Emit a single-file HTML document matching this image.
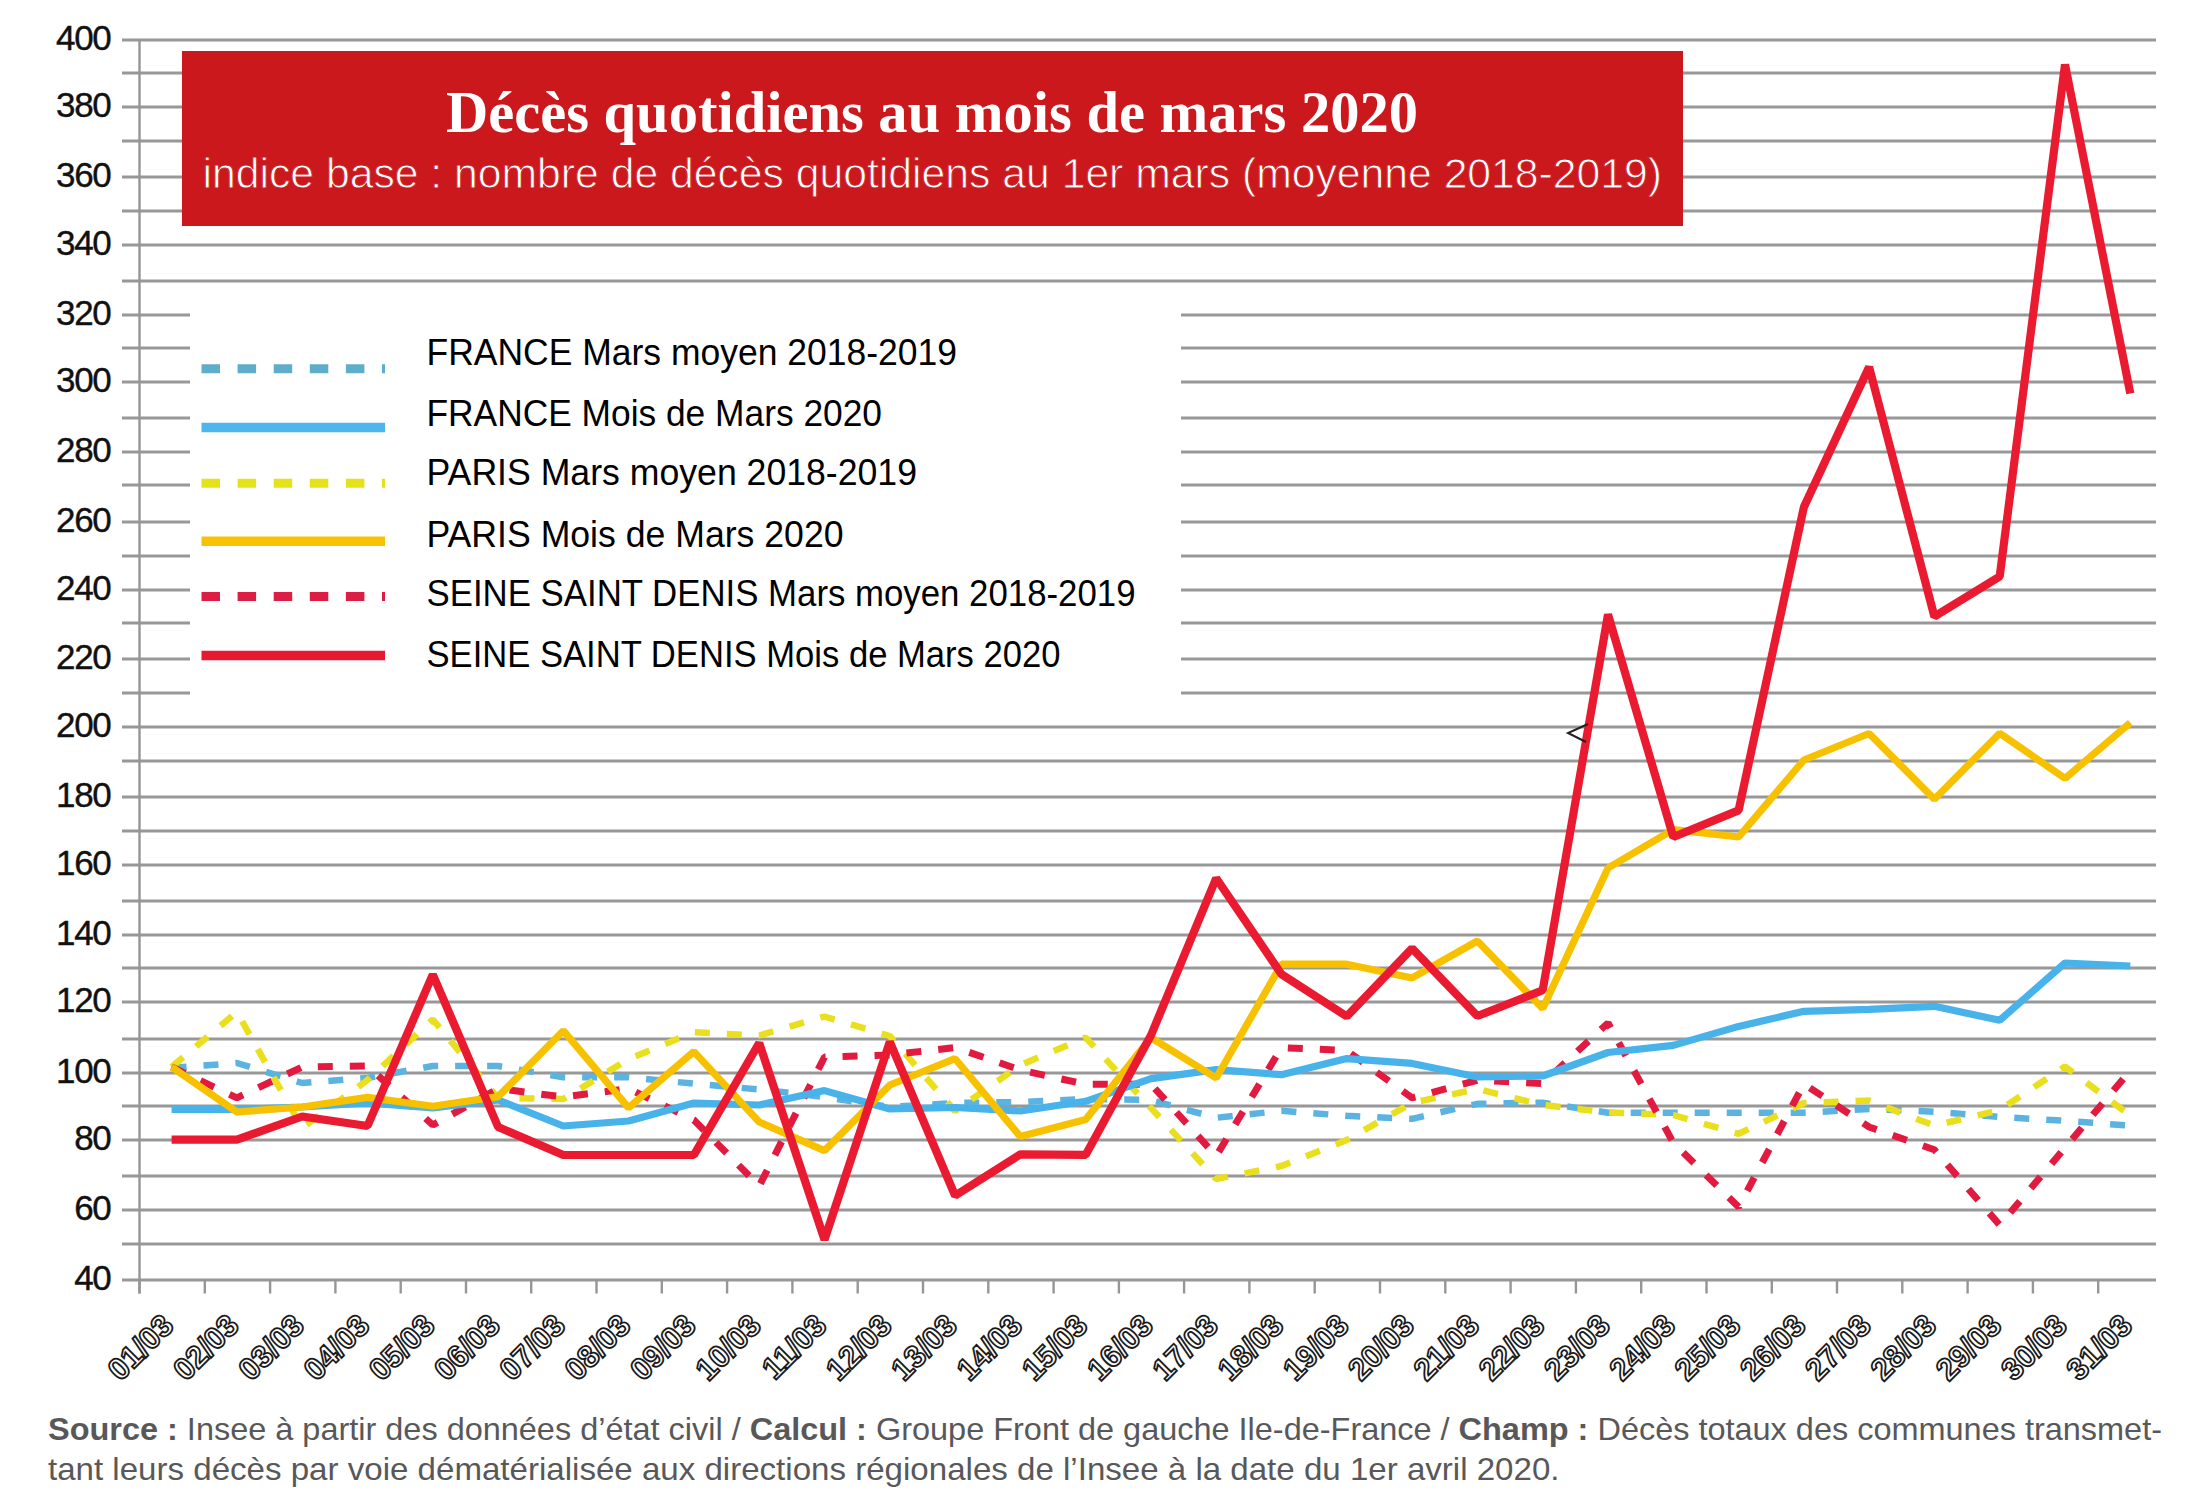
<!DOCTYPE html>
<html><head><meta charset="utf-8"><title>Décès quotidiens au mois de mars 2020</title>
<style>
html,body{margin:0;padding:0;background:#fff;}
body{width:2200px;height:1494px;overflow:hidden;position:relative;}
svg{position:absolute;left:0;top:0;display:block;}
</style></head><body>
<svg width="2200" height="1494" viewBox="0 0 2200 1494">
<rect x="0" y="0" width="2200" height="1494" fill="#fff"/>

<g stroke="#989898" stroke-width="2.8"><line x1="122" y1="40" x2="2156" y2="40"/><line x1="122" y1="73" x2="2156" y2="73"/><line x1="122" y1="107" x2="2156" y2="107"/><line x1="122" y1="141" x2="2156" y2="141"/><line x1="122" y1="177" x2="2156" y2="177"/><line x1="122" y1="211" x2="2156" y2="211"/><line x1="122" y1="245" x2="2156" y2="245"/><line x1="122" y1="281" x2="2156" y2="281"/><line x1="122" y1="315" x2="2156" y2="315"/><line x1="122" y1="348" x2="2156" y2="348"/><line x1="122" y1="382" x2="2156" y2="382"/><line x1="122" y1="418" x2="2156" y2="418"/><line x1="122" y1="452" x2="2156" y2="452"/><line x1="122" y1="485" x2="2156" y2="485"/><line x1="122" y1="522" x2="2156" y2="522"/><line x1="122" y1="556" x2="2156" y2="556"/><line x1="122" y1="590" x2="2156" y2="590"/><line x1="122" y1="623" x2="2156" y2="623"/><line x1="122" y1="659" x2="2156" y2="659"/><line x1="122" y1="693" x2="2156" y2="693"/><line x1="122" y1="727" x2="2156" y2="727"/><line x1="122" y1="761" x2="2156" y2="761"/><line x1="122" y1="797" x2="2156" y2="797"/><line x1="122" y1="831" x2="2156" y2="831"/><line x1="122" y1="865" x2="2156" y2="865"/><line x1="122" y1="901" x2="2156" y2="901"/><line x1="122" y1="935" x2="2156" y2="935"/><line x1="122" y1="968" x2="2156" y2="968"/><line x1="122" y1="1002" x2="2156" y2="1002"/><line x1="122" y1="1039" x2="2156" y2="1039"/><line x1="122" y1="1073" x2="2156" y2="1073"/><line x1="122" y1="1106" x2="2156" y2="1106"/><line x1="122" y1="1140" x2="2156" y2="1140"/><line x1="122" y1="1176" x2="2156" y2="1176"/><line x1="122" y1="1210" x2="2156" y2="1210"/><line x1="122" y1="1244" x2="2156" y2="1244"/><line x1="122" y1="1280" x2="2156" y2="1280"/></g>
<g stroke="#969696" stroke-width="2.4"><line x1="139.5" y1="40" x2="139.5" y2="1293.5"/><line x1="139.5" y1="1280" x2="139.5" y2="1293.5"/><line x1="204.8" y1="1280" x2="204.8" y2="1293.5"/><line x1="270.1" y1="1280" x2="270.1" y2="1293.5"/><line x1="335.4" y1="1280" x2="335.4" y2="1293.5"/><line x1="400.7" y1="1280" x2="400.7" y2="1293.5"/><line x1="466.0" y1="1280" x2="466.0" y2="1293.5"/><line x1="531.2" y1="1280" x2="531.2" y2="1293.5"/><line x1="596.5" y1="1280" x2="596.5" y2="1293.5"/><line x1="661.8" y1="1280" x2="661.8" y2="1293.5"/><line x1="727.1" y1="1280" x2="727.1" y2="1293.5"/><line x1="792.4" y1="1280" x2="792.4" y2="1293.5"/><line x1="857.7" y1="1280" x2="857.7" y2="1293.5"/><line x1="923.0" y1="1280" x2="923.0" y2="1293.5"/><line x1="988.3" y1="1280" x2="988.3" y2="1293.5"/><line x1="1053.6" y1="1280" x2="1053.6" y2="1293.5"/><line x1="1118.9" y1="1280" x2="1118.9" y2="1293.5"/><line x1="1184.1" y1="1280" x2="1184.1" y2="1293.5"/><line x1="1249.4" y1="1280" x2="1249.4" y2="1293.5"/><line x1="1314.7" y1="1280" x2="1314.7" y2="1293.5"/><line x1="1380.0" y1="1280" x2="1380.0" y2="1293.5"/><line x1="1445.3" y1="1280" x2="1445.3" y2="1293.5"/><line x1="1510.6" y1="1280" x2="1510.6" y2="1293.5"/><line x1="1575.9" y1="1280" x2="1575.9" y2="1293.5"/><line x1="1641.2" y1="1280" x2="1641.2" y2="1293.5"/><line x1="1706.5" y1="1280" x2="1706.5" y2="1293.5"/><line x1="1771.8" y1="1280" x2="1771.8" y2="1293.5"/><line x1="1837.0" y1="1280" x2="1837.0" y2="1293.5"/><line x1="1902.3" y1="1280" x2="1902.3" y2="1293.5"/><line x1="1967.6" y1="1280" x2="1967.6" y2="1293.5"/><line x1="2032.9" y1="1280" x2="2032.9" y2="1293.5"/><line x1="2098.2" y1="1280" x2="2098.2" y2="1293.5"/></g>
<polyline points="171.6,1068.0 236.9,1063.0 302.2,1083.0 367.5,1078.0 432.8,1066.0 498.1,1066.0 563.3,1077.3 628.6,1077.3 693.9,1083.7 759.2,1089.4 824.5,1097.0 889.8,1107.0 955.1,1103.0 1020.4,1102.0 1085.7,1099.0 1151.0,1100.0 1216.2,1117.8 1281.5,1110.8 1346.8,1115.8 1412.1,1118.8 1477.4,1103.8 1542.7,1102.7 1608.0,1112.7 1673.3,1112.7 1738.6,1112.7 1803.9,1112.7 1869.1,1109.0 1934.4,1111.7 1999.7,1117.0 2065.0,1120.7 2130.3,1125.7" fill="none" stroke="#5bb3e2" stroke-width="6.5" stroke-linejoin="bevel" stroke-dasharray="15 17"/>
<polyline points="171.6,1067.0 236.9,1012.0 302.2,1128.0 367.5,1080.0 432.8,1019.5 498.1,1098.0 563.3,1099.0 628.6,1059.0 693.9,1032.3 759.2,1035.5 824.5,1016.5 889.8,1036.0 955.1,1111.0 1020.4,1065.0 1085.7,1037.6 1151.0,1108.0 1216.2,1179.0 1281.5,1166.0 1346.8,1140.0 1412.1,1102.8 1477.4,1089.0 1542.7,1105.0 1608.0,1112.4 1673.3,1115.0 1738.6,1133.8 1803.9,1103.0 1869.1,1100.6 1934.4,1125.7 1999.7,1110.0 2065.0,1066.5 2130.3,1115.7" fill="none" stroke="#e9df1c" stroke-width="6.5" stroke-linejoin="bevel" stroke-dasharray="15 17"/>
<polyline points="171.6,1067.0 236.9,1097.8 302.2,1067.0 367.5,1066.0 432.8,1125.0 498.1,1088.6 563.3,1097.0 628.6,1088.6 693.9,1120.0 759.2,1186.0 824.5,1057.0 889.8,1055.0 955.1,1047.5 1020.4,1070.0 1085.7,1084.3 1151.0,1084.3 1216.2,1156.0 1281.5,1047.6 1346.8,1050.6 1412.1,1097.8 1477.4,1080.3 1542.7,1083.5 1608.0,1023.0 1673.3,1142.8 1738.6,1207.0 1803.9,1084.0 1869.1,1127.0 1934.4,1149.8 1999.7,1225.0 2065.0,1147.8 2130.3,1070.5" fill="none" stroke="#e21a40" stroke-width="7" stroke-linejoin="bevel" stroke-dasharray="15 17"/>
<polyline points="171.6,1109.5 236.9,1109.5 302.2,1107.0 367.5,1103.0 432.8,1108.0 498.1,1100.0 563.3,1126.0 628.6,1121.0 693.9,1103.0 759.2,1105.0 824.5,1090.6 889.8,1109.0 955.1,1107.5 1020.4,1111.0 1085.7,1101.3 1151.0,1078.6 1216.2,1069.6 1281.5,1074.7 1346.8,1058.6 1412.1,1063.4 1477.4,1077.0 1542.7,1076.0 1608.0,1052.5 1673.3,1045.4 1738.6,1026.4 1803.9,1011.3 1869.1,1009.3 1934.4,1006.3 1999.7,1020.3 2065.0,963.0 2130.3,966.0" fill="none" stroke="#48b2ea" stroke-width="7.2" stroke-linejoin="bevel"/>
<polyline points="171.6,1067.0 236.9,1112.0 302.2,1107.0 367.5,1097.4 432.8,1106.2 498.1,1096.6 563.3,1030.7 628.6,1107.8 693.9,1051.6 759.2,1122.0 824.5,1150.6 889.8,1085.0 955.1,1058.7 1020.4,1136.6 1085.7,1119.6 1151.0,1037.6 1216.2,1078.0 1281.5,964.2 1346.8,964.2 1412.1,977.9 1477.4,941.0 1542.7,1008.5 1608.0,868.0 1673.3,829.6 1738.6,837.0 1803.9,760.0 1869.1,733.5 1934.4,799.3 1999.7,733.2 2065.0,778.4 2130.3,722.7" fill="none" stroke="#f7c100" stroke-width="7.2" stroke-linejoin="bevel"/>
<polyline points="171.6,1139.7 236.9,1139.7 302.2,1116.5 367.5,1126.0 432.8,974.5 498.1,1127.0 563.3,1155.0 628.6,1155.0 693.9,1155.0 759.2,1043.0 824.5,1239.6 889.8,1041.9 955.1,1195.6 1020.4,1154.3 1085.7,1154.9 1151.0,1035.3 1216.2,878.2 1281.5,974.3 1346.8,1016.4 1412.1,948.3 1477.4,1016.0 1542.7,990.3 1608.0,614.5 1673.3,837.0 1738.6,810.4 1803.9,507.0 1869.1,367.0 1934.4,616.6 1999.7,576.6 2065.0,64.5 2130.3,393.5" fill="none" stroke="#ea1a30" stroke-width="8.2" stroke-linejoin="bevel"/>
<polyline points="1588,724 1568,733 1586,742" fill="none" stroke="#222" stroke-width="2"/>
<rect x="182" y="51" width="1501" height="175" fill="#cb181d"/>
<text x="446" y="131.5" font-family="Liberation Serif, serif" font-weight="700" font-size="58.5" fill="#fff" textLength="972" lengthAdjust="spacingAndGlyphs">Décès quotidiens au mois de mars 2020</text>
<text x="202.5" y="188" font-family="Liberation Sans, sans-serif" font-size="42.5" fill="#fff" stroke="#cb181d" stroke-width="0.9" textLength="1459.5" lengthAdjust="spacingAndGlyphs">indice base : nombre de décès quotidiens au 1er mars (moyenne 2018-2019)</text>
<rect x="190" y="298" width="991" height="412" fill="#fff"/>
<line x1="201.5" y1="368.8" x2="385" y2="368.8" stroke="#5eaecb" stroke-width="9" stroke-dasharray="18.5 17.6"/>
<text x="426.5" y="364.8" font-family="Liberation Sans, sans-serif" font-size="37" fill="#000" textLength="530.5" lengthAdjust="spacingAndGlyphs">FRANCE Mars moyen 2018-2019</text>
<line x1="201.5" y1="427.5" x2="385" y2="427.5" stroke="#4db6ec" stroke-width="9.5"/>
<text x="426.5" y="425.5" font-family="Liberation Sans, sans-serif" font-size="37" fill="#000" textLength="455.5" lengthAdjust="spacingAndGlyphs">FRANCE Mois de Mars 2020</text>
<line x1="201.5" y1="483.2" x2="385" y2="483.2" stroke="#e6e21a" stroke-width="9" stroke-dasharray="18.5 17.6"/>
<text x="426.5" y="484.9" font-family="Liberation Sans, sans-serif" font-size="37" fill="#000" textLength="490.5" lengthAdjust="spacingAndGlyphs">PARIS Mars moyen 2018-2019</text>
<line x1="201.5" y1="541.3" x2="385" y2="541.3" stroke="#f7c300" stroke-width="9.5"/>
<text x="426.5" y="546.6" font-family="Liberation Sans, sans-serif" font-size="37" fill="#000" textLength="417.0" lengthAdjust="spacingAndGlyphs">PARIS Mois de Mars 2020</text>
<line x1="201.5" y1="596.6" x2="385" y2="596.6" stroke="#dc1e44" stroke-width="9" stroke-dasharray="18.5 17.6"/>
<text x="426.5" y="606" font-family="Liberation Sans, sans-serif" font-size="37" fill="#000" textLength="709.0" lengthAdjust="spacingAndGlyphs">SEINE SAINT DENIS Mars moyen 2018-2019</text>
<line x1="201.5" y1="655.5" x2="385" y2="655.5" stroke="#e8182e" stroke-width="9.5"/>
<text x="426.5" y="666.7" font-family="Liberation Sans, sans-serif" font-size="37" fill="#000" textLength="634.0" lengthAdjust="spacingAndGlyphs">SEINE SAINT DENIS Mois de Mars 2020</text>
<g font-family="Liberation Sans, sans-serif" font-size="35" fill="#111" stroke="#111" stroke-width="0.4" text-anchor="end" letter-spacing="-1.3"><text x="110.5" y="1290">40</text><text x="110.5" y="1220">60</text><text x="110.5" y="1150">80</text><text x="110.5" y="1083">100</text><text x="110.5" y="1012">120</text><text x="110.5" y="945">140</text><text x="110.5" y="875">160</text><text x="110.5" y="807">180</text><text x="110.5" y="737">200</text><text x="110.5" y="669">220</text><text x="110.5" y="600">240</text><text x="110.5" y="532">260</text><text x="110.5" y="462">280</text><text x="110.5" y="392">300</text><text x="110.5" y="325">320</text><text x="110.5" y="255">340</text><text x="110.5" y="187">360</text><text x="110.5" y="117">380</text><text x="110.5" y="50">400</text></g>
<g font-family="Liberation Sans, sans-serif" font-size="31" font-weight="700" fill="#fff" stroke="#1a1a1a" stroke-width="1.8" text-anchor="end" dominant-baseline="hanging"><text transform="translate(159.6,1311.5) rotate(-45)" x="0" y="0">01/03</text><text transform="translate(224.9,1311.5) rotate(-45)" x="0" y="0">02/03</text><text transform="translate(290.2,1311.5) rotate(-45)" x="0" y="0">03/03</text><text transform="translate(355.5,1311.5) rotate(-45)" x="0" y="0">04/03</text><text transform="translate(420.8,1311.5) rotate(-45)" x="0" y="0">05/03</text><text transform="translate(486.1,1311.5) rotate(-45)" x="0" y="0">06/03</text><text transform="translate(551.3,1311.5) rotate(-45)" x="0" y="0">07/03</text><text transform="translate(616.6,1311.5) rotate(-45)" x="0" y="0">08/03</text><text transform="translate(681.9,1311.5) rotate(-45)" x="0" y="0">09/03</text><text transform="translate(747.2,1311.5) rotate(-45)" x="0" y="0">10/03</text><text transform="translate(812.5,1311.5) rotate(-45)" x="0" y="0">11/03</text><text transform="translate(877.8,1311.5) rotate(-45)" x="0" y="0">12/03</text><text transform="translate(943.1,1311.5) rotate(-45)" x="0" y="0">13/03</text><text transform="translate(1008.4,1311.5) rotate(-45)" x="0" y="0">14/03</text><text transform="translate(1073.7,1311.5) rotate(-45)" x="0" y="0">15/03</text><text transform="translate(1139.0,1311.5) rotate(-45)" x="0" y="0">16/03</text><text transform="translate(1204.2,1311.5) rotate(-45)" x="0" y="0">17/03</text><text transform="translate(1269.5,1311.5) rotate(-45)" x="0" y="0">18/03</text><text transform="translate(1334.8,1311.5) rotate(-45)" x="0" y="0">19/03</text><text transform="translate(1400.1,1311.5) rotate(-45)" x="0" y="0">20/03</text><text transform="translate(1465.4,1311.5) rotate(-45)" x="0" y="0">21/03</text><text transform="translate(1530.7,1311.5) rotate(-45)" x="0" y="0">22/03</text><text transform="translate(1596.0,1311.5) rotate(-45)" x="0" y="0">23/03</text><text transform="translate(1661.3,1311.5) rotate(-45)" x="0" y="0">24/03</text><text transform="translate(1726.6,1311.5) rotate(-45)" x="0" y="0">25/03</text><text transform="translate(1791.9,1311.5) rotate(-45)" x="0" y="0">26/03</text><text transform="translate(1857.1,1311.5) rotate(-45)" x="0" y="0">27/03</text><text transform="translate(1922.4,1311.5) rotate(-45)" x="0" y="0">28/03</text><text transform="translate(1987.7,1311.5) rotate(-45)" x="0" y="0">29/03</text><text transform="translate(2053.0,1311.5) rotate(-45)" x="0" y="0">30/03</text><text transform="translate(2118.3,1311.5) rotate(-45)" x="0" y="0">31/03</text></g>
<text x="48" y="1440.4" font-family="Liberation Sans, sans-serif" font-size="32" fill="#58585a" textLength="2114" lengthAdjust="spacingAndGlyphs"><tspan font-weight="700">Source :</tspan> Insee à partir des données d’état civil / <tspan font-weight="700">Calcul :</tspan> Groupe Front de gauche Ile-de-France / <tspan font-weight="700">Champ :</tspan> Décès totaux des communes transmet-</text>
<text x="48" y="1480" font-family="Liberation Sans, sans-serif" font-size="32" fill="#58585a" textLength="1511.5" lengthAdjust="spacingAndGlyphs">tant leurs décès par voie dématérialisée aux directions régionales de l’Insee à la date du 1er avril 2020.</text>
</svg></body></html>
